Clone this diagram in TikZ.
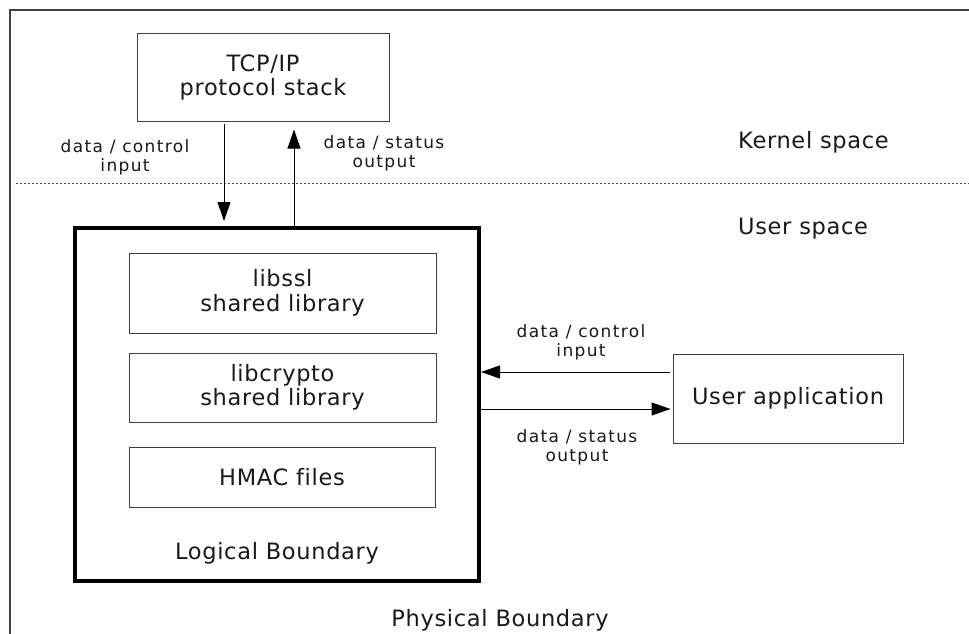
\documentclass[tikz,border=0pt]{standalone}
\usepackage{fontspec}
\setmainfont{DejaVu Sans}
\newfontfamily\bigf[LetterSpace=3,Ligatures=NoCommon]{DejaVu Sans}
\newfontfamily\smallf[LetterSpace=8,Ligatures=NoCommon]{DejaVu Sans}
\usetikzlibrary{arrows.meta}
\tikzset{
  bigtext/.style={font=\bigf\fontsize{22.5}{24.5}\selectfont, align=center, inner sep=0pt, text=black!90},
  smalltext/.style={font=\smallf\fontsize{17}{19}\selectfont, align=center, inner sep=0pt, text=black!90},
  thinbox/.style={draw=black!75, line width=1pt, inner sep=0pt, bigtext},
  logicbox/.style={draw=black, line width=4pt, inner sep=0pt},
  flow/.style={draw=black, line width=1pt, -{Triangle[length=19pt,width=13pt]}},
  frame/.style={draw=black!75, line width=1.5pt},
  divider/.style={draw=black!70, line width=0.8pt, dash pattern=on 2pt off 2pt}
}
\begin{document}
\begin{tikzpicture}[x=1pt,y=-1pt]
\useasboundingbox (0,0) rectangle (969,634);
\clip (0,0) rectangle (969,634);
\fill[white] (0,0) rectangle (969,634);
% physical boundary frame (cut off at right and bottom)
\draw[frame] (10,10) rectangle (1000,680);
% kernel / user divider
\coordinate (divL) at (16,183);
\coordinate (divR) at (969,183);
\draw[divider] (divL) -- (divR);

% boxes
\node[thinbox, minimum width=252pt, minimum height=87pt] (tcp) at (263,77.5) {TCP/IP\\protocol stack};
\node[logicbox, minimum width=404pt, minimum height=353pt] (logical) at (277,404.5) {};
\node[thinbox, minimum width=307pt, minimum height=80pt] (libssl) at (282.5,293) {libssl\\shared library};
\node[thinbox, minimum width=307pt, minimum height=69pt] (libcrypto) at (282.5,387.5) {libcrypto\\shared library};
\node[thinbox, minimum width=306pt, minimum height=60pt] (hmac) at (282,477) {HMAC files};
\node[thinbox, minimum width=230pt, minimum height=89pt] (userapp) at (788,398.5) {User application};

% texts
\node[bigtext] (logicallabel) at (277,553) {Logical Boundary};
\node[bigtext] (physlabel) at (500,620) {Physical Boundary};
\node[bigtext, anchor=west] (kernel) at (738,142) {Kernel space};
\node[bigtext, anchor=west] (userspace) at (738,229) {User space};

% connector labels
\node[smalltext] (lblin) at (125,157) {data / control\\input};
\node[smalltext] (lblout) at (384,153) {data / status\\output};
\node[smalltext] (lbluin) at (581,342) {data / control\\input};
\node[smalltext] (lbluout) at (577,447) {data / status\\output};

% connectors
\coordinate (xin) at (224,0);
\coordinate (xout) at (294,0);
\coordinate (yin) at (0,372);
\coordinate (yout) at (0,409);
\draw[flow, shorten <=2pt, shorten >=5pt] (tcp.south -| xin) -- (logical.north -| xin);
\draw[flow, shorten >=8pt] (logical.north -| xout) -- (tcp.south -| xout);
\draw[flow, shorten <=3pt] (userapp.west |- yin) -- (logical.east |- yin);
\draw[flow, shorten >=2pt] (logical.east |- yout) -- (userapp.west |- yout);
\end{tikzpicture}
\end{document}
